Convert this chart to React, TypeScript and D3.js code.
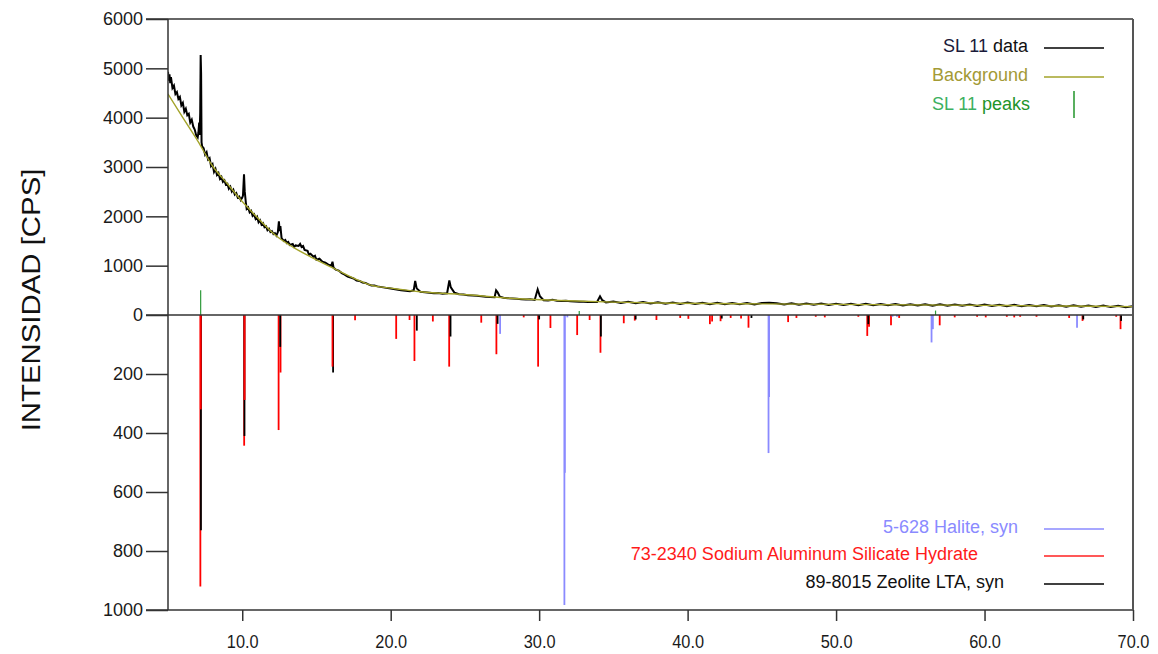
import React, { useEffect, useRef } from "react";
import * as d3 from "d3";

// SL 11 scan, [2theta, cps]
const scan: [number, number][] = [
  [5.0, 4930], [5.05, 4750], [5.1, 4880], [5.15, 4700], [5.2, 4820], [5.3, 4600],
  [5.4, 4650], [5.5, 4480], [5.6, 4520], [5.7, 4380], [5.8, 4420], [5.9, 4250],
  [6.0, 4300], [6.1, 4120], [6.2, 4180], [6.3, 4050], [6.4, 4080], [6.5, 3900],
  [6.6, 3960], [6.7, 3820], [6.8, 3760], [6.9, 3640], [7.0, 3600], [7.05, 3700],
  [7.1, 3900], [7.13, 3650], [7.17, 4100], [7.2, 5270], [7.23, 4900], [7.26, 3500],
  [7.3, 3420], [7.4, 3380], [7.5, 3250], [7.6, 3300], [7.7, 3150], [7.8, 3180],
  [7.9, 3020], [8.0, 3060], [8.1, 2900], [8.2, 2960], [8.3, 2840], [8.4, 2880],
  [8.5, 2760], [8.6, 2800], [8.7, 2700], [8.8, 2730], [8.9, 2640], [9.0, 2660],
  [9.1, 2560], [9.2, 2600], [9.3, 2500], [9.4, 2540], [9.5, 2440], [9.6, 2470],
  [9.7, 2380], [9.8, 2400], [9.9, 2330], [10.0, 2380], [10.05, 2420], [10.12, 2850],
  [10.17, 2500], [10.25, 2260], [10.3, 2150], [10.4, 2180], [10.5, 2080], [10.6, 2110],
  [10.7, 2010], [10.8, 2040], [10.9, 1950], [11.0, 1990], [11.1, 1880], [11.2, 1920],
  [11.3, 1830], [11.4, 1860], [11.5, 1780], [11.6, 1800], [11.7, 1720], [11.8, 1750],
  [11.9, 1680], [12.0, 1700], [12.1, 1640], [12.2, 1660], [12.3, 1610], [12.4, 1680],
  [12.47, 1900], [12.52, 1700], [12.57, 1800], [12.65, 1560], [12.8, 1500], [12.9, 1520],
  [13.0, 1460], [13.1, 1480], [13.2, 1420], [13.4, 1440], [13.5, 1380], [13.6, 1410],
  [13.8, 1400], [13.9, 1440], [14.0, 1380], [14.1, 1400], [14.2, 1320], [14.4, 1300],
  [14.5, 1220], [14.6, 1240], [14.8, 1180], [14.9, 1200], [15.0, 1120], [15.2, 1140],
  [15.4, 1080], [15.6, 1060], [15.8, 1020], [16.0, 1000], [16.08, 1080], [16.15, 960],
  [16.3, 920], [16.5, 900], [16.7, 850], [16.9, 820], [17.1, 780], [17.3, 760],
  [17.5, 740], [17.7, 700], [17.9, 690], [18.1, 660], [18.3, 650], [18.5, 620],
  [18.7, 600], [18.9, 600], [19.1, 580], [19.3, 570], [19.5, 560], [19.7, 550],
  [19.9, 540], [20.1, 530], [20.3, 520], [20.5, 510], [20.7, 500], [21.0, 490],
  [21.3, 480], [21.55, 500], [21.65, 690], [21.75, 540], [22.0, 470], [22.3, 460],
  [22.6, 450], [22.9, 440], [23.2, 445], [23.5, 430], [23.8, 440], [23.95, 700],
  [24.05, 560], [24.3, 450], [24.6, 420], [24.9, 415], [25.2, 400], [25.5, 395],
  [25.8, 390], [26.1, 380], [26.4, 370], [26.7, 365], [27.0, 360], [27.1, 500],
  [27.2, 460], [27.35, 370], [27.6, 350], [27.9, 340], [28.2, 335], [28.5, 330],
  [28.8, 320], [29.1, 315], [29.4, 320], [29.7, 305], [29.9, 520], [30.05, 380],
  [30.3, 300], [30.6, 295], [30.9, 310], [31.2, 290], [31.5, 285], [31.8, 290],
  [32.1, 280], [32.4, 275], [32.7, 270], [33.0, 268], [33.3, 265], [33.6, 262],
  [33.9, 265], [34.1, 380], [34.25, 300], [34.5, 255], [35.0, 275], [35.5, 245],
  [36.0, 268], [36.5, 240], [37.0, 262], [37.5, 232], [38.0, 258], [38.5, 228],
  [39.0, 255], [39.5, 225], [40.0, 252], [40.5, 222], [41.0, 250], [41.5, 220],
  [42.0, 248], [42.5, 218], [43.0, 245], [43.5, 216], [44.0, 244], [44.5, 214],
  [45.0, 242], [45.5, 250], [46.0, 238], [46.5, 212], [47.0, 236], [47.5, 210],
  [48.0, 234], [48.5, 206], [49.0, 232], [49.5, 204], [50.0, 230], [50.5, 202],
  [51.0, 228], [51.5, 200], [52.0, 226], [52.5, 198], [53.0, 224], [53.5, 196],
  [54.0, 222], [54.5, 194], [55.0, 220], [55.5, 192], [56.0, 218], [56.5, 190],
  [57.0, 216], [57.5, 188], [58.0, 214], [58.5, 186], [59.0, 212], [59.5, 184],
  [60.0, 210], [60.5, 182], [61.0, 208], [61.5, 180], [62.0, 206], [62.5, 178],
  [63.0, 204], [63.5, 176], [64.0, 202], [64.5, 172], [65.0, 198], [65.5, 170],
  [66.0, 196], [66.5, 168], [67.0, 194], [67.5, 164], [68.0, 190], [68.5, 160],
  [69.0, 186], [69.5, 158], [70.0, 180],
];

const background: [number, number][] = [
  [5.0, 4480], [6.0, 4000], [7.0, 3530], [8.0, 3020], [9.0, 2660], [10.0, 2300],
  [11.0, 1980], [12.3, 1600], [13.5, 1360], [14.6, 1180], [16.0, 970], [18.0, 680],
  [18.6, 610], [20.0, 545], [22.0, 470], [25.4, 405], [28.0, 340], [32.0, 290],
  [35.0, 262], [39.0, 238], [45.0, 225], [50.0, 215], [55.0, 205], [60.0, 195],
  [65.0, 182], [70.0, 170],
];

// matched peak positions (upper half, cps)
const sl11Peaks: [number, number][] = [[7.2, 500], [32.7, 80], [56.7, 90]];

// reference patterns (lower half, relative intensity)
const halitePeaks: [number, number][] = [
  [27.37, 64], [31.7, 983], [31.73, 535], [31.9, 8], [45.45, 468], [45.49, 278],
  [53.8, 6], [54.1, 6], [56.43, 93], [56.52, 48], [66.23, 43],
];
const silicatePeaks: [number, number][] = [
  [7.18, 920], [7.21, 320], [10.13, 443], [10.16, 288], [12.45, 390], [12.58, 195],
  [16.08, 175], [17.6, 18], [20.37, 81], [21.27, 17], [21.6, 156], [22.84, 22],
  [23.94, 175], [26.1, 26], [27.12, 133], [28.96, 8], [29.93, 175], [30.76, 44],
  [32.56, 68], [33.4, 17], [34.13, 128], [35.7, 28], [36.44, 19], [37.9, 17],
  [39.5, 10], [40.05, 13], [41.5, 31], [41.65, 22], [42.22, 21], [42.9, 10],
  [43.6, 12], [44.1, 43], [46.77, 24], [47.33, 10], [48.63, 6], [49.24, 8],
  [51.5, 6], [52.1, 71], [52.22, 40], [53.7, 35], [54.25, 10], [56.98, 35],
  [57.99, 8], [59.5, 6], [60.08, 8], [61.5, 6], [62.0, 8], [62.4, 6], [63.5, 6],
  [65.7, 10], [66.6, 20], [68.87, 6], [69.16, 48],
];
const zeolitePeaks: [number, number][] = [
  [7.22, 730], [10.15, 410], [12.56, 108], [16.12, 195], [21.76, 53], [24.03, 73],
  [27.2, 30], [30.0, 15], [34.16, 73], [36.5, 15], [42.3, 12], [44.3, 10],
  [52.17, 31], [66.65, 15], [69.2, 20],
];

const upperTicks = [0, 1000, 2000, 3000, 4000, 5000, 6000];
const lowerTicks = [200, 400, 600, 800, 1000];
const xTicks = [10, 20, 30, 40, 50, 60, 70];

const FONT = "'Liberation Sans', Arial, sans-serif";

function XrdChart() {
  const svgRef = useRef<SVGSVGElement>(null);

  useEffect(() => {
    const svg = d3.select(svgRef.current);
    svg.selectAll("*").remove();

    const left = 168, right = 1133, top = 19, zero = 315, bottom = 610;

    const x = d3.scaleLinear().domain([5, 70]).range([left, right]);
    const yUp = d3.scaleLinear().domain([0, 6000]).range([zero, top]);
    const yLow = d3.scaleLinear().domain([0, 1000]).range([zero, bottom]);

    svg.append("clipPath").attr("id", "plotclip")
      .append("rect").attr("x", left).attr("y", top).attr("width", right - left).attr("height", bottom - top);

    // reference sticks, longest first so short ones sit on top
    const sticks = [
      ...halitePeaks.map((d) => ({ t: d[0], v: d[1], c: "#8a8aff" })),
      ...silicatePeaks.map((d) => ({ t: d[0], v: d[1], c: "#ff0000" })),
      ...zeolitePeaks.map((d) => ({ t: d[0], v: d[1], c: "#000000" })),
    ].sort((a, b) => b.v - a.v);

    const plot = svg.append("g").attr("clip-path", "url(#plotclip)");

    plot.selectAll("line.stick").data(sticks).enter().append("line")
      .attr("class", "stick")
      .attr("x1", (d) => x(d.t)).attr("x2", (d) => x(d.t))
      .attr("y1", yLow(0)).attr("y2", (d) => yLow(d.v))
      .attr("stroke", (d) => d.c).attr("stroke-width", 1.8);

    plot.selectAll("line.sl").data(sl11Peaks).enter().append("line")
      .attr("class", "sl")
      .attr("x1", (d) => x(d[0])).attr("x2", (d) => x(d[0]))
      .attr("y1", yUp(0)).attr("y2", (d) => yUp(d[1]))
      .attr("stroke", "#2e9a3a").attr("stroke-width", 1.2);

    const line = d3.line<[number, number]>().x((d) => x(d[0])).y((d) => yUp(d[1]));

    plot.append("path").datum(scan).attr("d", line)
      .attr("fill", "none").attr("stroke", "#000").attr("stroke-width", 2);

    plot.append("path").datum(background).attr("d", line.curve(d3.curveMonotoneX))
      .attr("fill", "none").attr("stroke", "#a3a32a").attr("stroke-width", 1.4);

    // frame
    const frame = svg.append("g").attr("stroke", "#333").attr("stroke-width", 1.5);
    frame.append("line").attr("x1", 146).attr("x2", right).attr("y1", top).attr("y2", top);
    frame.append("line").attr("x1", 146).attr("x2", right).attr("y1", zero).attr("y2", zero);
    frame.append("line").attr("x1", 146).attr("x2", right).attr("y1", bottom).attr("y2", bottom);
    frame.append("line").attr("x1", left).attr("x2", left).attr("y1", top).attr("y2", bottom);
    frame.append("line").attr("x1", right).attr("x2", right).attr("y1", top).attr("y2", bottom)
      .attr("stroke", "#555").attr("stroke-width", 2);

    // axes
    const styleAxis = (g: any, size: number) => {
      g.select(".domain").remove();
      g.selectAll(".tick line").attr("stroke", "#333").attr("stroke-width", 1.5);
      g.selectAll(".tick text").attr("fill", "#1a1a1a").style("font-family", FONT).style("font-size", size + "px");
    };

    svg.append("g").attr("transform", `translate(${left},0)`)
      .call(d3.axisLeft(yUp).tickValues(upperTicks).tickSize(22).tickPadding(3).tickFormat(d3.format("d")))
      .call((g) => styleAxis(g, 18));

    svg.append("g").attr("transform", `translate(${left},0)`)
      .call(d3.axisLeft(yLow).tickValues(lowerTicks).tickSize(22).tickPadding(3).tickFormat(d3.format("d")))
      .call((g) => styleAxis(g, 18));

    svg.append("g").attr("transform", `translate(0,${bottom})`)
      .call(d3.axisBottom(x).tickValues(xTicks).tickSize(11).tickPadding(14).tickFormat(d3.format(".1f")))
      .call((g) => {
        styleAxis(g, 19);
        g.selectAll(".tick text").attr("transform", "scale(0.86,1)");
      });

    svg.append("text")
      .attr("transform", "translate(40,300) rotate(-90) scale(1.13,1)")
      .attr("text-anchor", "middle")
      .style("font-family", FONT).style("font-size", "26px")
      .attr("fill", "#111")
      .text("INTENSIDAD [CPS]");

    // legends
    const legText = (xEnd: number, yBase: number, parts: [string, string][]) => {
      const t = svg.append("text").attr("x", xEnd).attr("y", yBase).attr("text-anchor", "end")
        .style("font-family", FONT).style("font-size", "18px");
      parts.forEach((p) => t.append("tspan").attr("fill", p[1]).text(p[0]));
    };
    const legLine = (yy: number, c: string) => {
      svg.append("line").attr("x1", 1044).attr("x2", 1104).attr("y1", yy).attr("y2", yy)
        .attr("stroke", c).attr("stroke-width", 1.5);
    };

    legText(1028, 52, [["SL 11 ", "#1a1a3a"], ["data", "#111"]]);
    legLine(48, "#000");
    legText(1028, 81, [["Background", "#a39a35"]]);
    legLine(77, "#a3a32a");
    legText(1030, 110, [["SL 11 ", "#3cb060"], ["peaks", "#22942a"]]);
    svg.append("line").attr("x1", 1074).attr("x2", 1074).attr("y1", 91).attr("y2", 118)
      .attr("stroke", "#22942a").attr("stroke-width", 1.5);

    legText(1018, 533, [["5-628 Halite, syn", "#8a8aff"]]);
    legLine(529, "#8a8aff");
    legText(978, 560, [["73-2340 Sodium Aluminum Silicate Hydrate", "#ff1a1a"]]);
    legLine(556, "#ff2020");
    legText(1004, 588, [["89-8015 Zeolite LTA, syn", "#111"]]);
    legLine(584, "#000");
  }, []);

  return (
    <svg
      ref={svgRef}
      width={1158}
      height={654}
      style={{ position: "absolute", left: 0, top: 0, background: "#fff" }}
    ></svg>
  );
}

export default function App() {
  return <XrdChart />;
}
